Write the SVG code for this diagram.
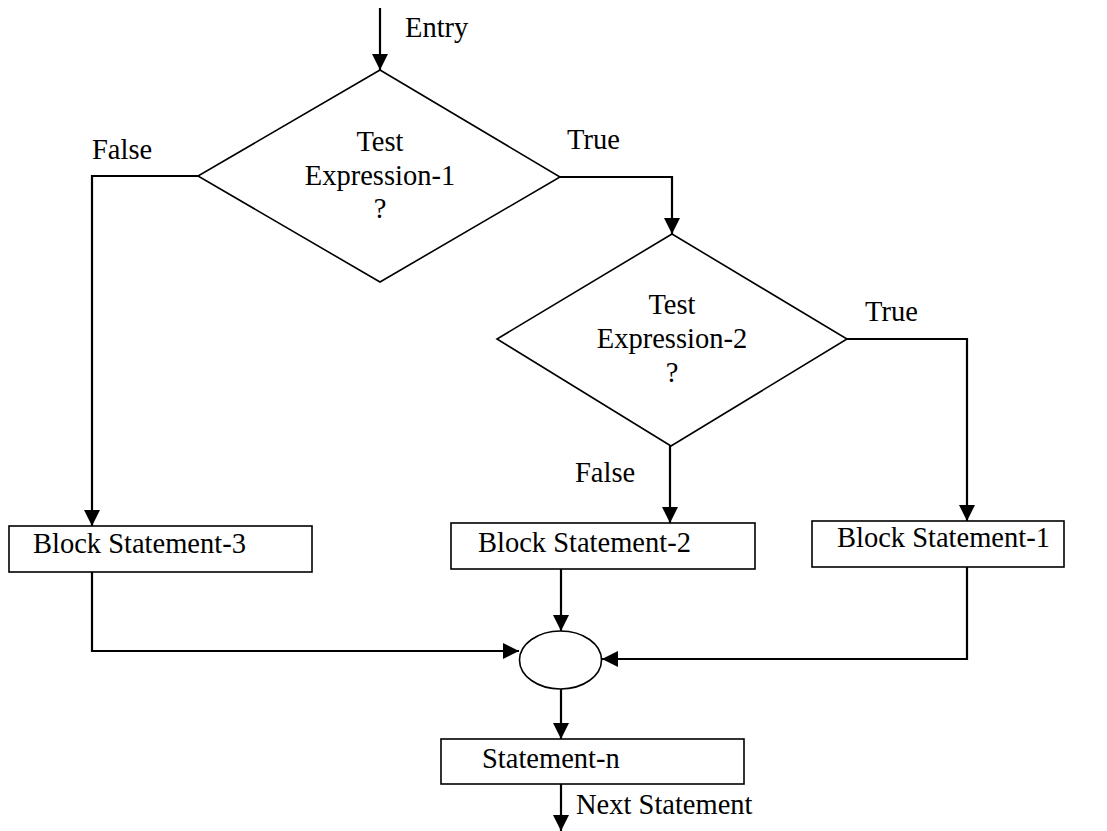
<svg xmlns="http://www.w3.org/2000/svg" width="1107" height="831" viewBox="0 0 1107 831">
  <style>
    text { font-family: "Liberation Serif", "Times New Roman", serif; font-size: 28.5px; fill: #000; }
    .mid { text-anchor: middle; }
    .shape { fill: #fff; stroke: #000; stroke-width: 1.6; }
    .wire { fill: none; stroke: #000; stroke-width: 2.2; }
    .arrow { marker-end: url(#head); }
  </style>
  <defs>
    <marker id="head" viewBox="0 0 16 16" refX="16" refY="8" markerWidth="16" markerHeight="16" markerUnits="userSpaceOnUse" orient="auto">
      <path d="M0,0 L16,8 L0,16 Z" fill="#000"/>
    </marker>
  </defs>

  <!-- connectors -->
  <g id="connectors">
    <path class="wire arrow" d="M380,8 V70"/>
    <path class="wire arrow" d="M198,176 H92 V526"/>
    <path class="wire arrow" d="M560,177 H672 V234"/>
    <path class="wire arrow" d="M847,339 H967 V521"/>
    <path class="wire arrow" d="M670,446 V523"/>
    <path class="wire arrow" d="M92,572 V651 H519"/>
    <path class="wire arrow" d="M561,567 V631"/>
    <path class="wire arrow" d="M967,567 V659 H602"/>
    <path class="wire arrow" d="M561,689 V739"/>
    <path class="wire arrow" d="M561,784 V831"/>
    <text x="405" y="37">Entry</text>
    <text x="92" y="159">False</text>
    <text x="567" y="149">True</text>
    <text x="865" y="321">True</text>
    <text x="575" y="482">False</text>
    <text x="576" y="814">Next Statement</text>
  </g>

  <!-- decision 1 -->
  <g id="test1">
    <polygon class="shape" points="380,70 560,177 380,282 198,176"/>
    <text class="mid" x="380" y="151">Test</text>
    <text class="mid" x="380" y="185">Expression-1</text>
    <text class="mid" x="380" y="218">?</text>
  </g>

  <!-- decision 2 -->
  <g id="test2">
    <polygon class="shape" points="672,234 847,339 671,446 497,339"/>
    <text class="mid" x="672" y="314">Test</text>
    <text class="mid" x="672" y="348">Expression-2</text>
    <text class="mid" x="672" y="382">?</text>
  </g>

  <g id="block3">
    <rect class="shape" x="9" y="526" width="303" height="46"/>
    <text x="33" y="553">Block Statement-3</text>
  </g>

  <g id="block2">
    <rect class="shape" x="451" y="523" width="304" height="46"/>
    <text x="478" y="552">Block Statement-2</text>
  </g>

  <g id="block1">
    <rect class="shape" x="812" y="521" width="252" height="46"/>
    <text x="837" y="547">Block Statement-1</text>
  </g>

  <g id="junction">
    <ellipse class="shape" cx="560.5" cy="660" rx="41" ry="29" stroke-width="2"/>
  </g>

  <g id="statement-n">
    <rect class="shape" x="441" y="739" width="303" height="45"/>
    <text x="482" y="768">Statement-n</text>
  </g>
</svg>
